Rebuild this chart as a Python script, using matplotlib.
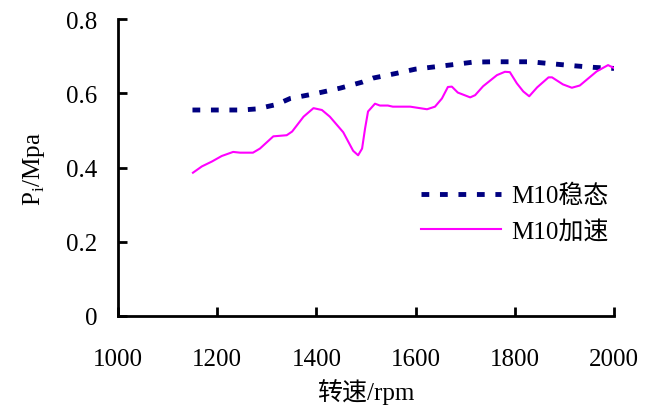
import numpy as np
import matplotlib.pyplot as plt

plt.rcParams['font.family'] = ['Liberation Serif', 'Noto Sans CJK SC']
plt.rcParams['mathtext.fontset'] = 'custom'
plt.rcParams['mathtext.rm'] = 'Liberation Serif'

# M10稳态
rpm_steady = [1150, 1250, 1280, 1320, 1347, 1401, 1448, 1492, 1514, 1562, 1599,
              1649, 1680, 1716, 1756, 1831, 1871, 1921, 1958, 2000]
p_steady = [0.555, 0.555, 0.558, 0.57, 0.586, 0.6, 0.614, 0.63, 0.641, 0.654, 0.665,
            0.673, 0.678, 0.684, 0.685, 0.685, 0.68, 0.674, 0.67, 0.667]

# M10加速
rpm_acc = [1151, 1169, 1189, 1209, 1232, 1246, 1272, 1286, 1313, 1340, 1351, 1374,
           1394, 1411, 1427, 1454, 1474, 1484, 1492, 1498, 1504, 1518, 1528, 1544,
           1554, 1589, 1623, 1639, 1653, 1665, 1673, 1685, 1710, 1720, 1736, 1764,
           1780, 1790, 1804, 1817, 1829, 1845, 1868, 1875, 1897, 1915, 1931, 1965,
           1988, 2000]
p_acc = [0.386, 0.403, 0.416, 0.431, 0.442, 0.44, 0.44, 0.451, 0.484, 0.487, 0.497, 0.537,
         0.56, 0.555, 0.537, 0.495, 0.445, 0.433, 0.451, 0.505, 0.551, 0.572, 0.567, 0.567,
         0.564, 0.564, 0.557, 0.564, 0.586, 0.617, 0.618, 0.602, 0.589, 0.595, 0.619, 0.649,
         0.658, 0.657, 0.627, 0.605, 0.592, 0.616, 0.643, 0.643, 0.624, 0.615, 0.621, 0.659,
         0.676, 0.668]

fig = plt.figure(figsize=(6.56, 4.10), dpi=100)
ax = fig.add_axes([0.180, 0.227, 0.756, 0.724])

ax.plot(rpm_steady, p_steady, color='#000080', linewidth=3.5, dashes=(1.6, 2.2),
        label='M10稳态')
ax.plot(rpm_acc, p_acc, color='#FF00FF', linewidth=1.5, label='M10加速')

ax.set_xlim(1000, 2000)
ax.set_ylim(0, 0.8)
ax.set_xticks([1000, 1200, 1400, 1600, 1800, 2000])
ax.set_yticks([0, 0.2, 0.4, 0.6, 0.8])
ax.set_yticklabels(['0', '0.2', '0.4', '0.6', '0.8'])
ax.spines['top'].set_visible(False)
ax.spines['right'].set_visible(False)
ax.spines['left'].set_linewidth(2)
ax.spines['bottom'].set_linewidth(2)
ax.tick_params(direction='in', length=6.5, width=2, labelsize=18)
ax.tick_params(axis='x', pad=23)
ax.tick_params(axis='y', pad=15)

ax.set_xlabel('转速/rpm', fontsize=18, labelpad=6)
ax.set_ylabel(r'P$_{\mathregular{i}}$/Mpa', fontsize=18, labelpad=14)

ax.legend(loc='upper left', bbox_to_anchor=(0.565, 0.52), frameon=False, fontsize=18,
          handlelength=3.2, handletextpad=0.4, labelspacing=0.5)

plt.savefig('out.png', dpi=100)
